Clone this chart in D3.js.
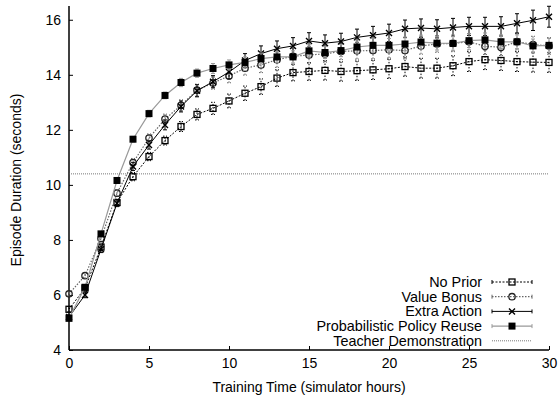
<!DOCTYPE html>
<html>
<head>
<meta charset="utf-8">
<script src="https://cdnjs.cloudflare.com/ajax/libs/d3/7.8.5/d3.min.js"></script>
<style>
  body { margin: 0; background: #fff; }
  text { font-family: "Liberation Sans", Arial, sans-serif; fill: #000; }
</style>
</head>
<body>
<div id="chart"></div>
<script>
// data
var hours = [0,1,2,3,4,5,6,7,8,9,10,11,12,13,14,15,16,17,18,19,20,21,22,23,24,25,26,27,28,29,30];

var noPrior     = [5.48,6.25,7.74,9.36,10.30,11.03,11.61,12.12,12.56,12.78,13.05,13.33,13.57,13.88,14.08,14.12,14.16,14.12,14.15,14.18,14.22,14.30,14.24,14.24,14.33,14.48,14.55,14.52,14.48,14.46,14.45];
var noPriorErr  = [0.10,0.10,0.10,0.12,0.15,0.15,0.16,0.18,0.20,0.22,0.25,0.26,0.28,0.30,0.30,0.32,0.35,0.35,0.35,0.35,0.35,0.35,0.36,0.36,0.36,0.36,0.36,0.36,0.36,0.36,0.36];

var valueBonus    = [6.04,6.70,8.05,9.70,10.81,11.70,12.39,12.89,13.44,13.70,13.96,14.24,14.36,14.55,14.67,14.72,14.76,14.85,14.87,14.88,14.91,14.88,15.05,15.12,15.14,15.20,15.04,15.00,15.20,15.10,15.05];
var valueBonusErr = [0.08,0.10,0.12,0.12,0.15,0.15,0.18,0.20,0.22,0.22,0.25,0.25,0.28,0.28,0.30,0.30,0.30,0.30,0.30,0.30,0.30,0.30,0.30,0.30,0.30,0.30,0.30,0.30,0.30,0.30,0.30];

var extraAction    = [5.20,6.00,7.66,9.33,10.67,11.45,12.18,12.85,13.42,13.75,14.10,14.52,14.77,14.95,15.05,15.23,15.15,15.21,15.36,15.44,15.52,15.67,15.70,15.67,15.72,15.76,15.76,15.76,15.87,15.98,16.11];
var extraActionErr = [0.08,0.10,0.12,0.12,0.15,0.15,0.18,0.20,0.22,0.22,0.25,0.25,0.28,0.28,0.30,0.30,0.30,0.30,0.30,0.32,0.32,0.32,0.33,0.33,0.33,0.33,0.33,0.35,0.35,0.37,0.38];

var ppr    = [5.15,6.28,8.22,10.16,11.66,12.59,13.25,13.72,14.06,14.23,14.36,14.45,14.59,14.65,14.65,14.87,14.81,14.88,15.01,15.07,15.07,15.12,15.19,15.15,15.14,15.24,15.27,15.20,15.20,15.05,15.07];
var pprErr = [0.06,0.08,0.08,0.10,0.10,0.12,0.12,0.15,0.15,0.18,0.18,0.20,0.20,0.20,0.22,0.22,0.22,0.22,0.22,0.25,0.25,0.25,0.25,0.25,0.25,0.25,0.25,0.25,0.25,0.25,0.25];

var teacherDemo = 10.4;

var xTicks = [0,5,10,15,20,25,30];
var yTicks = [4,6,8,10,12,14,16];

var W = 559, H = 401;
var margin = {top: 6, right: 10, bottom: 51, left: 69},
    width = W - margin.left - margin.right,
    height = H - margin.top - margin.bottom;

var svg = d3.select("#chart").append("svg").attr("width", W).attr("height", H)
  .append("g").attr("transform", "translate(" + margin.left + "," + margin.top + ")");

var x = d3.scaleLinear().domain([0, 30]).range([0, width]);
var y = d3.scaleLinear().domain([4, 16.5]).range([height, 0]);

// axes (gnuplot style, ticks inward, only left and bottom)
var xAxis = svg.append("g").attr("transform", "translate(0," + height + ")")
  .call(d3.axisBottom(x).tickValues(xTicks).tickSize(-4).tickPadding(8));
var yAxis = svg.append("g")
  .call(d3.axisLeft(y).tickValues(yTicks).tickSize(-4).tickPadding(8));
[xAxis, yAxis].forEach(function (a) {
  a.select(".domain").attr("stroke", "#000").attr("stroke-width", 1.5);
  a.selectAll(".tick line").attr("stroke", "#000");
  a.selectAll(".tick text").style("font-size", "14px").style("font-family", "Liberation Sans, Arial, sans-serif");
});
xAxis.select(".domain").attr("d", "M0,0H" + width);
yAxis.select(".domain").attr("d", "M0," + height + "V0");

svg.append("text").attr("x", width / 2).attr("y", height + 42)
  .attr("text-anchor", "middle").style("font-size", "14px")
  .text("Training Time (simulator hours)");
svg.append("text").attr("transform", "translate(" + (-48) + "," + (height / 2 + 2) + ") rotate(-90)")
  .attr("text-anchor", "middle").style("font-size", "14px")
  .text("Episode Duration (seconds)");

var series = [
  {name: "No Prior", vals: noPrior, err: noPriorErr, color: "#000", dash: "2,1.5", width: 1, errDash: "1.5,1.5", marker: "square"},
  {name: "Value Bonus", vals: valueBonus, err: valueBonusErr, color: "#666", dash: "1.5,1.5", width: 1.2, errDash: "1.5,1.5", marker: "circle"},
  {name: "Extra Action", vals: extraAction, err: extraActionErr, color: "#000", dash: null, width: 1, errDash: null, marker: "cross"},
  {name: "Probabilistic Policy Reuse", vals: ppr, err: pprErr, color: "#999", dash: null, width: 1.2, errDash: null, marker: "filled"}
];

function drawMarker(g, type, cx, cy) {
  if (type == "square") {
    g.append("rect").attr("x", cx - 3).attr("y", cy - 3).attr("width", 6).attr("height", 6)
      .attr("fill", "none").attr("stroke", "#000").attr("stroke-width", 1.3);
  } else if (type == "circle") {
    g.append("circle").attr("cx", cx).attr("cy", cy).attr("r", 3.2)
      .attr("fill", "none").attr("stroke", "#222").attr("stroke-width", 1.3);
  } else if (type == "cross") {
    g.append("path").attr("d", "M" + (cx - 3) + "," + (cy - 3) + "L" + (cx + 3) + "," + (cy + 3) +
      "M" + (cx - 3) + "," + (cy + 3) + "L" + (cx + 3) + "," + (cy - 3))
      .attr("stroke", "#000").attr("stroke-width", 1.4);
  } else if (type == "filled") {
    g.append("rect").attr("x", cx - 3.5).attr("y", cy - 3.5).attr("width", 7).attr("height", 7).attr("fill", "#000");
  }
}

series.forEach(function (s) {
  var g = svg.append("g");
  // error bars
  hours.forEach(function (h, i) {
    var lo = y(s.vals[i] - s.err[i]), hi = y(s.vals[i] + s.err[i]), cx = x(h);
    g.append("path")
      .attr("d", "M" + cx + "," + lo + "V" + hi + "M" + (cx - 2) + "," + lo + "H" + (cx + 2) + "M" + (cx - 2) + "," + hi + "H" + (cx + 2))
      .attr("stroke", s.color).attr("stroke-width", 1).attr("fill", "none")
      .attr("stroke-dasharray", s.errDash);
  });
  var line = d3.line().x(function (d, i) { return x(hours[i]); }).y(function (d) { return y(d); });
  g.append("path").datum(s.vals).attr("d", line).attr("fill", "none")
    .attr("stroke", s.color).attr("stroke-width", s.width).attr("stroke-dasharray", s.dash);
  hours.forEach(function (h, i) { drawMarker(g, s.marker, x(h), y(s.vals[i])); });
});

// teacher demonstration level
svg.append("line").attr("x1", 0).attr("x2", width).attr("y1", y(teacherDemo)).attr("y2", y(teacherDemo))
  .attr("stroke", "#555").attr("stroke-width", 0.8).attr("stroke-dasharray", "1,1");

// legend
var legend = svg.append("g");
var legItems = series.concat([{name: "Teacher Demonstration", color: "#555", dash: "1,1", width: 0.8, marker: null}]);
legItems.forEach(function (s, i) {
  var ly = 282 - margin.top + i * 14.7;
  var lx = 482 - margin.left;
  legend.append("text").attr("x", lx).attr("y", ly + 5).attr("text-anchor", "end")
    .style("font-size", "14.4px").text(s.name);
  legend.append("line").attr("x1", lx + 10).attr("x2", lx + 50).attr("y1", ly).attr("y2", ly)
    .attr("stroke", s.color).attr("stroke-width", s.width).attr("stroke-dasharray", s.dash);
  if (s.marker) {
    legend.append("path").attr("d", "M" + (lx + 10) + "," + (ly - 2) + "V" + (ly + 2) + "M" + (lx + 50) + "," + (ly - 2) + "V" + (ly + 2))
      .attr("stroke", s.color);
    drawMarker(legend, s.marker, lx + 30, ly);
  }
});
</script>
</body>
</html>
